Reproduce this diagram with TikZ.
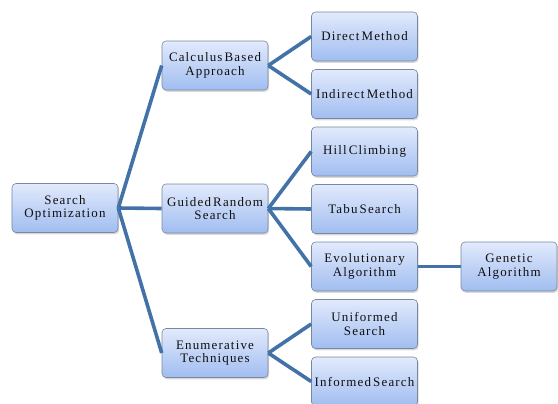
\documentclass[tikz,border=0pt]{standalone}
\usepackage{fontspec}
\setmainfont[LetterSpace=9,WordSpace=0.5]{Liberation Serif}
\usetikzlibrary{shadows}
\definecolor{linec}{RGB}{66,114,168}
\definecolor{boxtop}{RGB}{226,234,252}
\definecolor{boxbot}{RGB}{160,189,240}
\definecolor{boxdraw}{RGB}{120,136,160}
\definecolor{txt}{RGB}{15,15,15}
\begin{document}
\begin{tikzpicture}[x=1bp,y=-1bp,
  box/.style={draw=boxdraw, line width=0.6bp, rounded corners=4bp,
    top color=boxtop, bottom color=boxbot,
    minimum width=106bp, minimum height=49bp, inner sep=0pt,
    align=center, text=txt,
    font=\fontsize{13}{13.5}\selectfont,
    drop shadow={shadow xshift=1.2bp, shadow yshift=-1.8bp, opacity=0.3}},
  conn/.style={draw=linec, line width=3.6bp}]
\useasboundingbox (0,0) rectangle (558,403);
\node[box] (so) at (65,208) {Search\\Optimization};
\node[box] (cba) at (215,65.5) {Calculus Based\\Approach};
\node[box] (grs) at (215,208.5) {Guided Random\\Search};
\node[box] (et) at (215,353) {Enumerative\\Techniques};
\node[box] (dm) at (364.5,36.5) {Direct Method};
\node[box] (im) at (364.5,94) {Indirect Method};
\node[box] (hc) at (364.5,151.5) {Hill Climbing};
\node[box] (ts) at (364.5,209) {Tabu Search};
\node[box] (ea) at (364.5,266.5) {Evolutionary\\Algorithm};
\node[box] (us) at (364.5,324) {Uniformed\\Search};
\node[box] (is) at (364.5,381.5) {Informed Search};
\node[box, minimum width=96bp] (ga) at (509,266.5) {Genetic\\Algorithm};
\draw[conn] (so.east) -- (cba.west);
\draw[conn] (so.east) -- (grs.west);
\draw[conn] (so.east) -- (et.west);
\draw[conn] (cba.east) -- (dm.west);
\draw[conn] (cba.east) -- (im.west);
\draw[conn] (grs.east) -- (hc.west);
\draw[conn] (grs.east) -- (ts.west);
\draw[conn] (grs.east) -- (ea.west);
\draw[conn] (et.east) -- (us.west);
\draw[conn] (et.east) -- (is.west);
\draw[conn] (ea.east) -- (ga.west);
\end{tikzpicture}
\end{document}
